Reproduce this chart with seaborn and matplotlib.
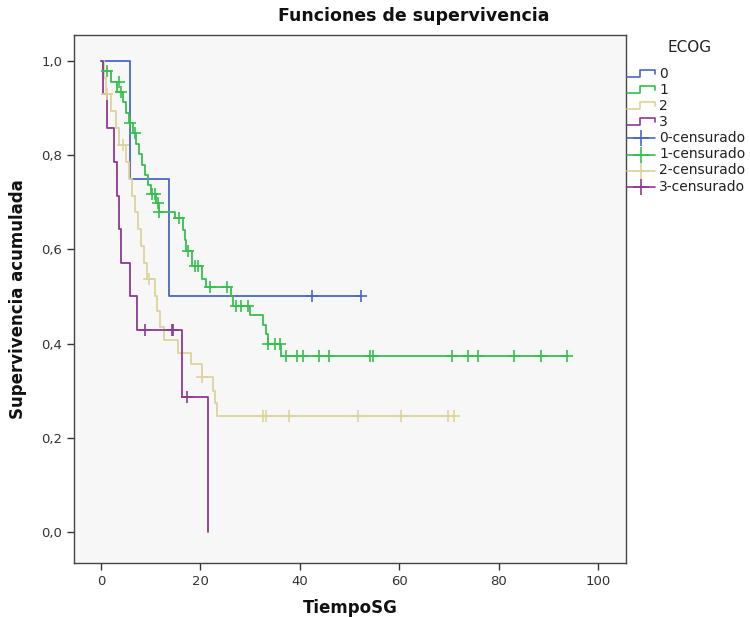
import numpy as np
import pandas as pd
import matplotlib
matplotlib.use("Agg")
import matplotlib.pyplot as plt
import seaborn as sns
from matplotlib.lines import Line2D
from matplotlib.legend_handler import HandlerBase
from matplotlib.ticker import FuncFormatter

# ---------------- data ----------------
groups = ["0", "1", "2", "3"]
colors = ["#4A68C4", "#35C04E", "#DCD49A", "#8C3A91"]

# ECOG 0
t0 = [0, 5.8, 13.7, 52.3]
s0 = [1.0, 0.75, 0.5, 0.5]
c0_t = [42.4, 52.3]
c0_s = [0.5, 0.5]

# ECOG 1
t1 = [0, 0.4, 2.0, 3.2, 4.4, 5.0, 5.6, 6.4, 7.0, 7.6, 8.2, 8.8, 9.4, 10.0, 11.0, 11.6,
      15.0, 16.5, 16.9, 17.2, 18.3, 20.3, 21.1, 26.2, 26.6, 30.0, 32.6, 33.2, 33.6, 36.2, 93.8]
s1 = [1.0, 0.978, 0.956, 0.934, 0.912, 0.89, 0.868, 0.846, 0.824, 0.802, 0.78, 0.758, 0.736,
      0.718, 0.698, 0.68, 0.667, 0.64, 0.62, 0.597, 0.565, 0.538, 0.52, 0.50, 0.48, 0.46,
      0.44, 0.42, 0.398, 0.373, 0.373]
c1_t = [1.2, 3.6, 4.0, 5.8, 6.8, 10.3, 10.9, 11.5, 11.7, 15.7, 17.5, 18.9, 19.5, 21.9, 25.4,
        27.2, 28.2, 29.6, 33.6, 35.0, 36.0, 37.2, 39.4, 40.6, 43.9, 45.9, 54.1, 54.7, 70.6,
        73.8, 75.9, 83.1, 88.5, 93.8]
c1_s = [0.978, 0.956, 0.934, 0.868, 0.846, 0.718, 0.718, 0.698, 0.68, 0.667, 0.597, 0.565,
        0.565, 0.52, 0.52, 0.48, 0.48, 0.48, 0.398, 0.398, 0.398, 0.373, 0.373, 0.373, 0.373,
        0.373, 0.373, 0.373, 0.373, 0.373, 0.373, 0.373, 0.373, 0.373]

# ECOG 2
t2 = [0, 0.6, 1.0, 2.0, 3.0, 3.6, 5.0, 5.6, 6.2, 6.8, 7.4, 8.0, 8.6, 9.2, 10.8, 11.2, 11.8,
      12.6, 15.5, 18.1, 20.3, 22.5, 22.9, 23.3, 71.0]
s2 = [1.0, 0.964, 0.929, 0.893, 0.857, 0.821, 0.786, 0.75, 0.714, 0.679, 0.643, 0.607, 0.571,
      0.536, 0.50, 0.47, 0.436, 0.407, 0.379, 0.356, 0.328, 0.30, 0.273, 0.246, 0.246]
c2_t = [1.2, 4.4, 9.6, 20.3, 32.6, 33.2, 37.8, 51.7, 60.4, 69.8, 71.0]
c2_s = [0.929, 0.821, 0.536, 0.328, 0.246, 0.246, 0.246, 0.246, 0.246, 0.246, 0.246]

# ECOG 3
t3 = [0, 0.4, 1.2, 2.6, 3.2, 3.6, 4.0, 5.8, 7.2, 16.3, 21.5]
s3 = [1.0, 0.929, 0.857, 0.786, 0.714, 0.643, 0.571, 0.50, 0.429, 0.286, 0.0]
c3_t = [8.9, 14.3, 14.6, 17.3]
c3_s = [0.429, 0.429, 0.429, 0.286]

xticks = [0, 20, 40, 60, 80, 100]
yticks = [0.0, 0.2, 0.4, 0.6, 0.8, 1.0]

# ---------------- plotting ----------------
sns.set_theme(style="white")
plt.rcParams["font.family"] = ["DejaVu Sans"]

fig = plt.figure(figsize=(7.5, 6.17), dpi=100)
fig.patch.set_facecolor("white")
ax = fig.add_axes([74 / 750, (617 - 563) / 617, (626 - 74) / 750, (563 - 35) / 617])
ax.set_facecolor("#F7F7F7")

steps = [(t0, s0), (t1, s1), (t2, s2), (t3, s3)]
cens = [(c0_t, c0_s), (c1_t, c1_s), (c2_t, c2_s), (c3_t, c3_s)]

for (t, s), col in zip(steps, colors):
    df = pd.DataFrame({"t": t, "s": s})
    sns.lineplot(data=df, x="t", y="s", drawstyle="steps-post", estimator=None,
                 sort=False, color=col, lw=1.3, ax=ax, legend=False)

for (t, s), col in zip(cens, colors):
    df = pd.DataFrame({"t": t, "s": s})
    sns.scatterplot(data=df, x="t", y="s", marker="+", s=70, linewidth=1.2,
                    color=col, ax=ax, legend=False, zorder=3)

ax.set_xlim(-5.4, 105.6)
ax.set_ylim(-0.066, 1.055)
ax.set_xticks(xticks)
ax.set_yticks(yticks)
ax.yaxis.set_major_formatter(FuncFormatter(lambda v, p: f"{v:.1f}".replace(".", ",")))
ax.tick_params(axis="both", which="major", direction="out", length=5, width=1,
               color="#333333", labelsize=9.5, labelcolor="#333333", bottom=True, left=True)
for sp in ax.spines.values():
    sp.set_color("#444444")
    sp.set_linewidth(1.0)

ax.set_xlabel("TiempoSG", fontsize=12, fontweight="bold", color="#111111", labelpad=8)
ax.set_ylabel("Supervivencia acumulada", fontsize=12, fontweight="bold", color="#111111",
              labelpad=10)
fig.text(414 / 750, 1 - 16 / 617, "Funciones de supervivencia", ha="center", va="center",
         fontsize=12.5, fontweight="bold", color="#111111")


# ---------------- legend ----------------
class StepHandler(HandlerBase):
    def create_artists(self, legend, orig_handle, xdescent, ydescent, width, height,
                       fontsize, trans):
        xs = np.array([0, 0.45, 0.45, 1.0, 1.0]) * width - xdescent
        ys = np.array([0.1, 0.1, 0.8, 0.8, 0.4]) * height - ydescent
        ln = Line2D(xs, ys, color=orig_handle.get_color(), lw=1.2)
        ln.set_transform(trans)
        return [ln]


class CensHandler(HandlerBase):
    def create_artists(self, legend, orig_handle, xdescent, ydescent, width, height,
                       fontsize, trans):
        yc = 0.4 * height - ydescent
        ln = Line2D([-xdescent, width - xdescent], [yc, yc],
                    color=orig_handle.get_color(), lw=1.2)
        mk = Line2D([0.5 * width - xdescent], [yc], marker="+", markersize=11,
                    markeredgewidth=1.2, color=orig_handle.get_color(), lw=0)
        ln.set_transform(trans)
        mk.set_transform(trans)
        return [ln, mk]


class StepH(Line2D):
    pass


class CensH(Line2D):
    pass


handles = [StepH([], [], color=c) for c in colors] + [CensH([], [], color=c) for c in colors]
labels = groups + [f"{g}-censurado" for g in groups]
leg = fig.legend(handles, labels, loc="upper left",
                 bbox_to_anchor=(627 / 750, 1 - 67 / 617), frameon=False,
                 fontsize=10, handler_map={StepH: StepHandler(), CensH: CensHandler()},
                 handlelength=2.0, handleheight=0.7, handletextpad=0.3, labelspacing=0.15,
                 borderpad=0.0, borderaxespad=0.0)
for txt in leg.get_texts():
    txt.set_color("#222222")
fig.text(690 / 750, 1 - 47 / 617, "ECOG", ha="center", va="center", fontsize=11,
         color="#222222")

fig.savefig("out.png", dpi=100)
